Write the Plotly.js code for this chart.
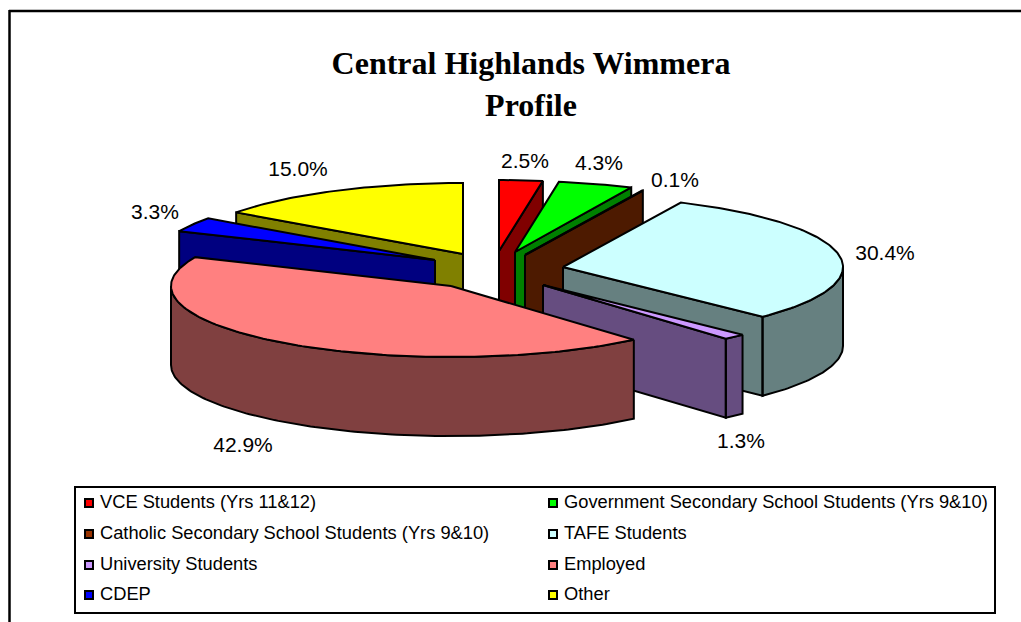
<!DOCTYPE html>
<html>
<head>
<meta charset="utf-8">
<script src="https://cdn.plot.ly/plotly-3.0.1.min.js"></script>
<style>html,body{margin:0;padding:0;background:#fff}#c{width:1021px;height:622px}</style>
</head>
<body>
<div id="c"></div>
<script>
// Data
const categories = ['VCE Students (Yrs 11&12)','Government Secondary School Students (Yrs 9&10)','Catholic Secondary School Students (Yrs 9&10)','TAFE Students','University Students','Employed','CDEP','Other'];
const values = [2.5,4.3,0.1,30.4,1.3,42.9,3.3,15.0];
const titleLines = ['Central Highlands Wimmera','Profile'];

// Styles
const topColors = ['#FF0000','#00FF00','#993300','#CCFFFF','#CC99FF','#FF8080','#0000FF','#FFFF00'];
const wallColors = ['#800000','#008000','#4D1A00','#668080','#664D80','#804040','#000080','#808000'];
// Exploded apex of each slice, label position, painter order
const apexX = [499,515,525,563,543,451,435,463];
const apexY = [251,252,255,267,285,286,260,254];
const labelX = [525,599,675,885,741,243,155,298];
const labelY = [163,165,182,255,443,447,214,171];
const drawOrder = [7,0,1,2,6,3,4,5];
const RX = 280, RY = 71, DEPTH = 79;

const pt = (i,deg) => {
  const r = deg*Math.PI/180;
  return [apexX[i]+RX*Math.sin(r), apexY[i]-RY*Math.cos(r)];
};
const total = values.reduce((a,b)=>a+b,0);
const starts = []; let acc = 0;
values.forEach(v=>{starts.push(acc/total*360); acc+=v;});
const ends = values.map((v,i)=>starts[i]+v/total*360);

const arc = (i,a,b) => {
  const out=[]; const n=Math.max(2,Math.ceil(Math.abs(b-a)));
  for(let k=0;k<=n;k++) out.push(pt(i,a+(b-a)*k/n));
  return out;
};
const polyLine = {color:'#000',width:2};
const traces = [];
drawOrder.forEach(i=>{
  const t1=starts[i], t2=ends[i];
  const wx=[], wy=[];
  const add = pts => {pts.forEach(p=>{wx.push(p[0]);wy.push(p[1]);}); wx.push(pts[0][0],null); wy.push(pts[0][1],null);};
  const A=[apexX[i],apexY[i]];
  const radial = P => [A,P,[P[0],P[1]+DEPTH],[A[0],A[1]+DEPTH]];
  if(Math.sin(t1*Math.PI/180)<0) add(radial(pt(i,t1)));
  if(Math.sin(t2*Math.PI/180)>0) add(radial(pt(i,t2)));
  const a=Math.max(t1,90), b=Math.min(t2,270);
  if(b>a){
    const rim=arc(i,a,b);
    add(rim.concat(rim.slice().reverse().map(p=>[p[0],p[1]+DEPTH])));
  }
  traces.push({type:'scatter',mode:'lines',x:wx,y:wy,fill:'toself',fillcolor:wallColors[i],line:polyLine,hoverinfo:'skip',showlegend:false});
  const top=[A].concat(arc(i,t1,t2),[A]);
  traces.push({type:'scatter',mode:'lines',x:top.map(p=>p[0]),y:top.map(p=>p[1]),fill:'toself',fillcolor:topColors[i],line:polyLine,name:categories[i],hoverinfo:'name',showlegend:false});
});

// Data labels
traces.push({type:'scatter',mode:'text',x:labelX,y:labelY,text:values.map(v=>v.toFixed(1)+'%'),textposition:'middle center',
  textfont:{family:'Liberation Sans',size:21,color:'#000'},hoverinfo:'skip',showlegend:false});

// Legend
const colX=[89,553], rowY=[502,533,564,594];
const legX=categories.map((c,i)=>colX[i%2]), legY=categories.map((c,i)=>rowY[Math.floor(i/2)]);
traces.push({type:'scatter',mode:'markers',x:legX,y:legY.map(v=>v+1),marker:{symbol:'square',size:8,color:topColors,line:{color:'#000',width:2}},hoverinfo:'skip',showlegend:false});
traces.push({type:'scatter',mode:'text',x:legX.map(v=>v+11),y:legY.map(v=>v+1.5),text:categories,textposition:'middle right',
  textfont:{family:'Liberation Sans',size:18.3,color:'#000'},hoverinfo:'skip',showlegend:false});

const layout = {
  width:1021,height:622,margin:{l:0,r:0,t:0,b:0},paper_bgcolor:'#fff',plot_bgcolor:'#fff',showlegend:false,
  xaxis:{range:[0,1021],visible:false,fixedrange:true},
  yaxis:{range:[622,0],visible:false,fixedrange:true},
  title:{text:titleLines.join('<br>'),
    font:{family:'Liberation Serif',size:32,color:'#000',weight:700},
    x:531/1021,xanchor:'center',y:1-74/622,yanchor:'middle',yref:'paper'},
  shapes:[
    {type:'line',x0:9.5,x1:9.5,y0:10,y1:622,line:{color:'#000',width:2.5}},
    {type:'line',x0:9,x1:1021,y0:11,y1:11,line:{color:'#000',width:2.5}},
    {type:'rect',x0:75,x1:995,y0:487,y1:613,line:{color:'#000',width:2},fillcolor:'rgba(0,0,0,0)'}
  ]
};
Plotly.newPlot('c',traces,layout,{displayModeBar:false,responsive:false});
</script>
</body>
</html>
